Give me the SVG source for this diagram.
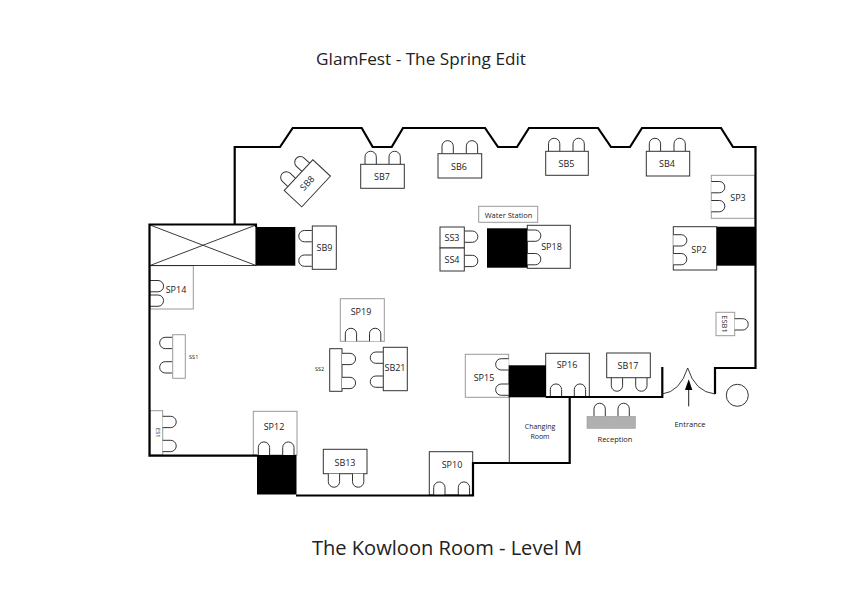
<svg xmlns="http://www.w3.org/2000/svg" width="842" height="595" viewBox="0 0 842 595">
<style>
text{font-family:"Open Sans","Noto Sans","Liberation Sans",sans-serif;fill:#222;text-anchor:middle;font-size:9px}
.t{fill:#fff;stroke:#333;stroke-width:1}
.g{fill:#fff;stroke:#999;stroke-width:1}
.c{fill:#fff;stroke:#333;stroke-width:1}
.wall{fill:none;stroke:#000;stroke-width:2.2}
.thin{fill:none;stroke:#222;stroke-width:.9}
.blk{fill:#000}
.small{font-size:5.5px}
.lab8{font-size:7.5px}
.lab7{font-size:7px}
</style>
<defs>
<path id="u" d="M0 13V5.5a5.6 5.5 0 0 1 11.3 0V13" class="c"/>
<path id="d" d="M0 0V8a5.6 5.5 0 0 0 11.3 0V0" class="c"/>
<path id="r" d="M0 0H8a5.5 5.6 0 0 1 0 11.3H0" class="c"/>
<path id="l" d="M13 0H5.5a5.5 5.6 0 0 0 0 11.3H13" class="c"/>
</defs>
<rect width="842" height="595" fill="#fff"/>
<text x="421" y="65" style="font-size:17.2px">GlamFest - The Spring Edit</text>
<text x="447" y="555" style="font-size:20.1px">The Kowloon Room - Level M</text>

<g id="SB8"><g transform="translate(307.3 183.3) rotate(-47)">
<use href="#u" x="-15.6" y="-25"/><use href="#u" x="5" y="-25"/>
<rect class="t" x="-21" y="-12" width="42" height="24"/>
<text y="3" x="0">SB8</text></g></g>
<g id="SB7"><use href="#u" x="365" y="151.3"/><use href="#u" x="389" y="151.3"/><rect class="t" x="360.7" y="164.3" width="43.6" height="24"/><text x="382" y="180">SB7</text></g>
<g id="SB6"><use href="#u" x="442" y="140.7"/><use href="#u" x="466.3" y="140.7"/><rect class="t" x="438" y="153.7" width="43.7" height="24.3"/><text x="459" y="170">SB6</text></g>
<g id="SB5"><use href="#u" x="548.5" y="138.3"/><use href="#u" x="573" y="138.3"/><rect class="t" x="545.7" y="151.3" width="42.6" height="24"/><text x="566.5" y="167">SB5</text></g>
<g id="SB4"><use href="#u" x="649.3" y="138.3"/><use href="#u" x="674" y="138.3"/><rect class="t" x="646.3" y="151.3" width="43.4" height="24.7"/><text x="667" y="167">SB4</text></g>
<g id="SP3"><rect class="g" x="711.3" y="175.3" width="43.7" height="43"/><use href="#r" x="711.3" y="181.5"/><use href="#r" x="711.3" y="200.5"/><text x="738" y="200.5">SP3</text></g>
<g id="SP2"><rect class="t" x="673.3" y="226.7" width="43.4" height="43.3"/><use href="#r" x="673.3" y="234.7"/><use href="#r" x="673.3" y="253.5"/><text x="699" y="253">SP2</text></g>
<g id="SP18"><rect class="t" x="527.3" y="225.3" width="43" height="43"/><use href="#r" x="527.3" y="230"/><use href="#r" x="527.3" y="253.5"/><text x="551.5" y="250">SP18</text></g>
<g id="water-station"><rect class="g" x="478.7" y="206.3" width="59" height="16"/><text x="508.5" y="218" class="lab8">Water Station</text></g>
<g id="SS3"><use href="#r" x="464.3" y="231"/><rect class="t" x="440" y="227" width="24.3" height="21"/><text x="452" y="241">SS3</text></g>
<g id="SS4"><use href="#r" x="464.3" y="255.3"/><rect class="t" x="440" y="248" width="24.3" height="23"/><text x="452" y="262.5">SS4</text></g>
<g id="SB9"><use href="#l" x="298.8" y="230.5"/><use href="#l" x="298.8" y="255"/><rect class="t" x="312.3" y="226" width="24" height="43.3"/><text x="324.5" y="250.5">SB9</text></g>
<g id="SP14"><rect class="g" x="150" y="265.7" width="43.3" height="43.3"/><use href="#r" x="150" y="280.5"/><use href="#r" x="150" y="295"/><text x="176" y="293">SP14</text></g>
<g id="SP19"><rect class="g" x="340.3" y="298.7" width="44" height="42.6"/><use href="#u" x="345.3" y="328.3"/><use href="#u" x="369.5" y="328.3"/><text x="361" y="315">SP19</text></g>
<g id="SS2"><rect class="t" x="329.7" y="348.7" width="12.3" height="42.6"/><use href="#r" x="342" y="353.3"/><use href="#r" x="342" y="377.3"/><text x="319.5" y="370.5" class="small">SS2</text></g>
<g id="SB21"><use href="#l" x="370.3" y="352"/><use href="#l" x="370.3" y="376"/><rect class="t" x="383.3" y="347.3" width="24" height="43.4"/><text x="395" y="371">SB21</text></g>
<g id="SS1"><use href="#l" x="159.7" y="337.3"/><use href="#l" x="159.7" y="361.7"/><rect class="g" x="172.7" y="334.7" width="12.6" height="43.6"/><text x="193.7" y="359" class="small">SS1</text></g>
<g id="ES1"><rect class="g" x="150" y="410.7" width="12.7" height="44.3"/><use href="#r" x="162.7" y="416.3"/><use href="#r" x="162.7" y="440.3"/><text transform="translate(155.5 432.7) rotate(90)" class="small">ES1</text></g>
<g id="SP12"><rect class="g" x="253.3" y="411.3" width="43.7" height="43.7"/><use href="#u" x="258.3" y="442"/><use href="#u" x="282.7" y="442"/><text x="274" y="430">SP12</text></g>
<g id="SB13"><rect class="t" x="323.3" y="449.3" width="43.7" height="24.4"/><use href="#d" x="328.3" y="473.7"/><use href="#d" x="352.5" y="473.7"/><text x="345" y="465.5">SB13</text></g>
<g id="SP10"><rect class="t" x="429.3" y="451.7" width="43.4" height="43.3"/><use href="#u" x="433.7" y="482"/><use href="#u" x="458.3" y="482"/><text x="452" y="467.5">SP10</text></g>
<g id="SP15"><rect class="g" x="465.3" y="354.3" width="43.4" height="43"/><use href="#l" x="495.7" y="358.7"/><use href="#l" x="495.7" y="384"/><text x="484" y="381">SP15</text></g>
<g id="SP16"><rect class="t" x="545.7" y="353.3" width="43.6" height="43.7"/><use href="#u" x="550.3" y="384"/><use href="#u" x="574.3" y="384"/><text x="567" y="368">SP16</text></g>
<g id="SB17"><use href="#d" x="611.3" y="377.7"/><use href="#d" x="635.7" y="377.7"/><rect class="t" x="606.7" y="353" width="43.6" height="24.7"/><text x="628" y="369">SB17</text></g>
<g id="reception"><use href="#u" x="594" y="403.3"/><use href="#u" x="618" y="403.3"/><rect x="587" y="416.3" width="48.3" height="12" fill="#b0b0b0" stroke="#999" stroke-width=".6"/><text x="615" y="442" class="lab8">Reception</text></g>
<g id="changing-room"><text class="lab7" x="540" y="429.3">Changing</text><text class="lab7" x="540" y="439">Room</text></g>
<g id="entrance"><path d="M688.7 406.3V388" stroke="#222" stroke-width="1" fill="none"/><path d="M688.7 379.3L692.3 390H685Z" fill="#000"/><text x="690" y="427" class="lab8">Entrance</text></g>
<g id="column"><circle cx="737.3" cy="395.3" r="11" fill="#fff" stroke="#333" stroke-width="1"/></g>
<g id="ESB1"><rect class="g" x="716" y="312.3" width="18.7" height="23.4"/><use href="#r" x="734.7" y="318.7"/><text transform="translate(721.5 324) rotate(90)" class="lab8">ESB1</text></g>

<g id="lift">
<rect class="thin" x="149.5" y="224.5" width="106.5" height="41"/>
<path class="thin" d="M150 225L256 265.5M150 265.5L256 225"/>
</g>
<g id="walls">
<path class="wall" d="M234.7 224V147H280L292.7 128H361.7L372.7 147H391.7L403 128H485L498 147H517L529 128H598L611 147H630L642 128H721L733 147H755.5V368H715V394"/>
<path class="wall" d="M662.3 367V397H546M569.7 397V463H473V495.5H296"/>
<path class="wall" d="M257 455.7H149.5V224.5H256V227"/>
<path class="thin" d="M509.3 397V463M662 394Q680 392 687.7 368M715 394Q695 392 687.7 368"/>
</g>
<g id="pillars">
<rect class="blk" x="255.7" y="227" width="39.6" height="38.7"/>
<rect class="blk" x="487" y="228.3" width="40.3" height="39.4"/>
<rect class="blk" x="716.7" y="226.7" width="38.8" height="39"/>
<rect class="blk" x="508.7" y="365.3" width="37.3" height="32"/>
<rect class="blk" x="257" y="455" width="39.5" height="39.5"/>
</g>
</svg>
